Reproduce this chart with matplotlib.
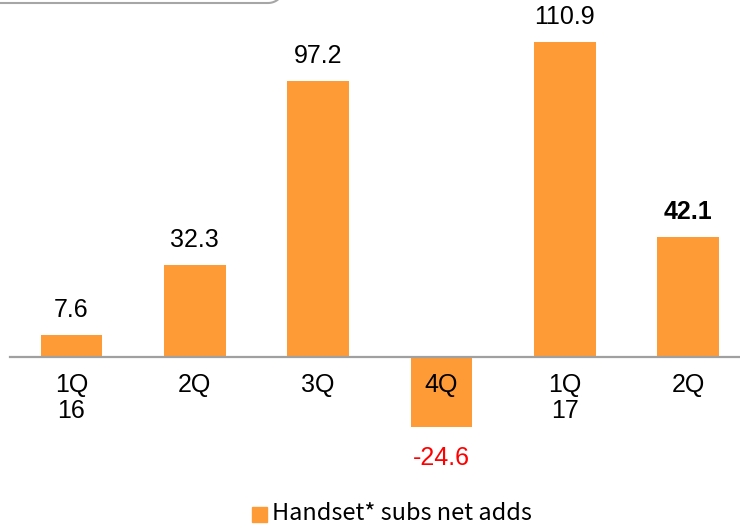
import numpy as np
import matplotlib.pyplot as plt
from matplotlib.lines import Line2D

quarters = ['1Q\n16', '2Q', '3Q', '4Q', '1Q\n17', '2Q']
net_adds = [7.6, 32.3, 97.2, -24.6, 110.9, 42.1]
series_name = 'Handset* subs net adds'

orange = '#FF9B37'
plt.rcParams['font.family'] = ['Liberation Sans', 'DejaVu Sans']

fig = plt.figure(figsize=(7.4, 5.28), dpi=100)
ax = fig.add_axes([0, 0, 1, 1])
x = range(len(quarters))
ax.bar(x, net_adds, width=0.5, color=orange, zorder=2)
ax.set_xlim(-0.579, 5.421)
ax.set_ylim(-60.2, 125.7)
ax.axis('off')
ax.axhline(0, xmin=10 / 740, xmax=1, color='#A0A0A0', lw=1.6, zorder=3)

# value labels above/below each bar
for i, v in enumerate(net_adds):
    bold = 'bold' if i == len(net_adds) - 1 else 'normal'
    if v >= 0:
        ax.annotate(f'{v:.1f}', (i, v), xytext=(0, 25), textcoords='offset pixels',
                    ha='center', va='center', fontsize=18, fontweight=bold)
    else:
        ax.annotate(f'{v:.1f}', (i, v), xytext=(0, -31), textcoords='offset pixels',
                    ha='center', va='center', fontsize=18, color='#FF0000')

# quarter labels under the axis line, one line at a time
for i, q in enumerate(quarters):
    for k, line in enumerate(q.split('\n')):
        ax.annotate(line, (i, 0), xytext=(0, -28 - 26 * k), textcoords='offset pixels',
                    ha='center', va='center', fontsize=18, zorder=4)

# legend
fig.patches.append(plt.Rectangle((252 / 740, 1 - 522 / 528), 15 / 740, 15 / 528,
                                 transform=fig.transFigure, color=orange))
fig.text(272 / 740, 1 - 514 / 528, series_name, ha='left', va='center',
         fontsize=17, family=['Noto Sans CJK KR', 'DejaVu Sans'])

# bottom edge of a rounded frame at the top (figure pixels)
r = 16
t = np.linspace(-np.pi / 2, 0, 20)
px = np.concatenate([[0], 268 + r * np.cos(t)])
py = np.concatenate([[525], 525 + r + r * np.sin(t)])
fig.lines.append(Line2D(px / 740, py / 528, transform=fig.transFigure,
                        color='#A6A6A6', lw=1.5))

fig.savefig('out.png', dpi=100)
